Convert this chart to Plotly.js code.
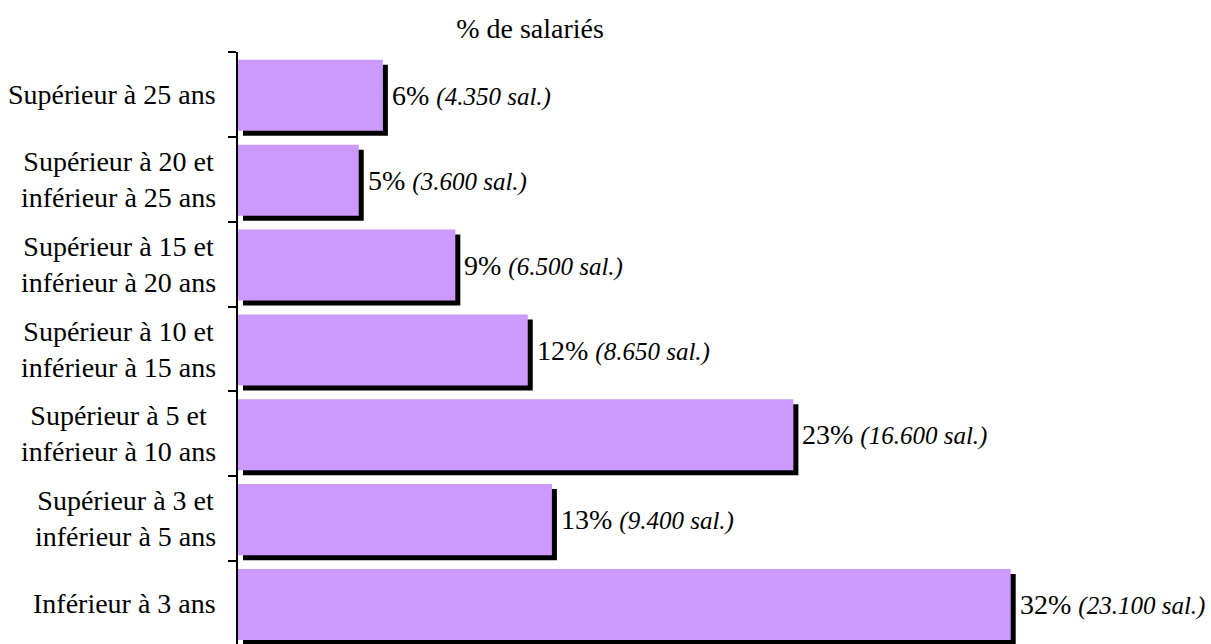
<!DOCTYPE html>
<html>
<head>
<meta charset="utf-8">
<script src="https://cdn.plot.ly/plotly-3.0.1.min.js"></script>
<style>
html, body { margin: 0; padding: 0; background: #fff; overflow: hidden; }
#chart { width: 1211px; height: 646px; }
</style>
</head>
<body>
<div id="chart"></div>
<script>
// Categories from bottom to top
const categories = [
  "Inférieur à 3 ans",
  "Supérieur à 3 et<br>inférieur à 5 ans",
  "Supérieur à 5 et<br>inférieur à 10 ans",
  "Supérieur à 10 et<br>inférieur à 15 ans",
  "Supérieur à 15 et<br>inférieur à 20 ans",
  "Supérieur à 20 et<br>inférieur à 25 ans",
  "Supérieur à 25 ans"
];
const percentages = [32, 13, 23, 12, 9, 5, 6];
const salaries = ["23.100", "9.400", "16.600", "8.650", "6.500", "3.600", "4.350"];
const chartTitle = "% de salariés";

const FONT = 'Liberation Serif, Times New Roman, serif';
const PX_PER_UNIT = 24.16;   // x scale: 821px for 34 units
const SLOT = 646 - 52;       // plot height in px
const slotPx = SLOT / categories.length;
const shadowPx = 5;
const barWidth = 0.837;
const barOffset = -(0.5 - 6 / slotPx);
const shadowOffset = barOffset - shadowPx / slotPx;

const shadow = {
  type: 'bar',
  orientation: 'h',
  y: categories,
  x: percentages,
  base: shadowPx / PX_PER_UNIT,
  width: barWidth,
  offset: shadowOffset,
  marker: { color: '#000000', line: { width: 0 } },
  hoverinfo: 'skip',
  showlegend: false
};
const bars = {
  type: 'bar',
  orientation: 'h',
  y: categories,
  x: percentages,
  base: 0,
  width: barWidth,
  offset: barOffset,
  marker: { color: '#CC99FF', line: { width: 0 } },
  hoverinfo: 'skip',
  showlegend: false
};

const annotations = [];
categories.forEach((c, i) => {
  annotations.push({
    xref: 'paper', yref: 'y', x: 0, y: c,
    xanchor: 'right', yanchor: 'middle', xshift: -20,
    align: 'center', showarrow: false,
    text: c,
    font: { family: FONT, size: 28, color: '#000' }
  });
  annotations.push({
    xref: 'x', yref: 'y', x: percentages[i], y: c,
    xanchor: 'left', yanchor: 'middle', xshift: 7, yshift: -1,
    showarrow: false,
    text: percentages[i] + '% <span style="font-style:italic;font-size:25px">(' + salaries[i] + ' sal.)</span>',
    font: { family: FONT, size: 28, color: '#000' }
  });
});

const layout = {
  width: 1211,
  height: 646,
  autosize: false,
  margin: { l: 238, r: 152, t: 52, b: 0, pad: 0 },
  paper_bgcolor: '#ffffff',
  plot_bgcolor: '#ffffff',
  barmode: 'overlay',
  showlegend: false,
  font: { family: FONT, size: 28, color: '#000' },
  title: {
    text: chartTitle,
    font: { family: FONT, size: 28, color: '#000' },
    xref: 'container', yref: 'container',
    x: 530 / 1211, xanchor: 'center',
    y: 1 - 28 / 646, yanchor: 'middle'
  },
  xaxis: {
    range: [0, 34],
    visible: false,
    showgrid: false,
    zeroline: false,
    fixedrange: true
  },
  yaxis: {
    type: 'category',
    categoryorder: 'array',
    categoryarray: categories,
    range: [-0.5, categories.length - 0.5],
    showline: true,
    linecolor: '#000',
    linewidth: 2,
    ticks: 'outside',
    tickson: 'boundaries',
    ticklen: 8,
    tickwidth: 2,
    tickcolor: '#000',
    showticklabels: false,
    showgrid: false,
    zeroline: false,
    fixedrange: true
  },
  annotations: annotations,
  hovermode: false
};

Plotly.newPlot('chart', [shadow, bars], layout, { displayModeBar: false, staticPlot: true });
</script>
</body>
</html>
